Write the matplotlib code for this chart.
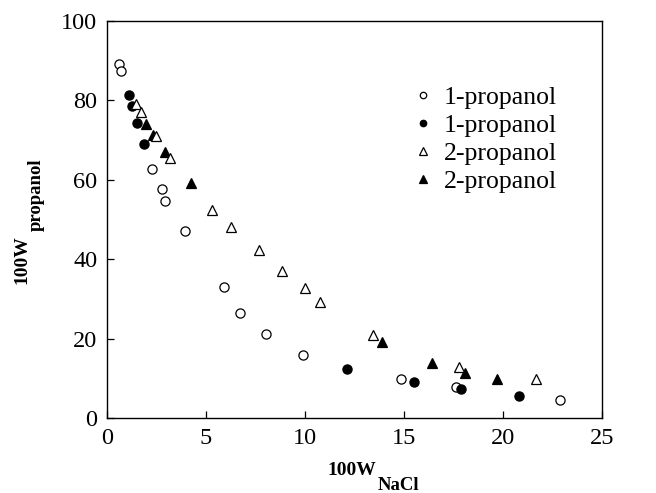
import matplotlib
matplotlib.use('Agg')
import matplotlib.pyplot as plt

plt.rcParams['font.family'] = ['Liberation Serif', 'DejaVu Serif']

# 1-propanol, two data sets
x1_open = [0.62, 0.71, 2.26, 2.80, 2.94, 3.96, 5.90, 6.73, 8.05, 9.91, 14.85, 17.64, 22.9]
y1_open = [89.2, 87.5, 62.7, 57.6, 54.7, 47.2, 32.9, 26.4, 21.2, 15.9, 9.8, 7.7, 4.5]
x1_fill = [1.13, 1.25, 1.52, 1.87, 12.1, 15.5, 17.9, 20.8]
y1_fill = [81.3, 78.7, 74.3, 69.0, 12.3, 9.1, 7.2, 5.5]

# 2-propanol, two data sets
x2_open = [1.47, 1.72, 2.49, 3.19, 5.31, 6.26, 7.66, 8.83, 10.0, 10.78, 13.42, 17.76, 21.68]
y2_open = [79.1, 77.0, 71.1, 65.6, 52.4, 48.1, 42.2, 37.0, 32.8, 29.3, 20.9, 12.9, 9.8]
x2_fill = [1.95, 2.32, 2.91, 4.23, 13.91, 16.4, 18.1, 19.7]
y2_fill = [74.1, 71.3, 66.9, 59.1, 19.1, 13.8, 11.3, 9.8]

labels = ['1-propanol', '1-propanol', '2-propanol', '2-propanol']
x_ticks = [0, 5, 10, 15, 20, 25]
y_ticks = [0, 20, 40, 60, 80, 100]

W, H = 656, 493
fig = plt.figure(figsize=(W / 100, H / 100), dpi=100)
ax = fig.add_axes([107 / W, 1 - 418 / H, 495 / W, 397 / H])


def px(x, y):
    return x / W, 1 - y / H


ax.plot(x1_open, y1_open, 'o', ms=6.6, mfc='white', mec='black', mew=0.9,
        ls='none', zorder=2, label=labels[0])
ax.plot(x1_fill, y1_fill, 'o', ms=6.6, mfc='black', mec='black', mew=0.9,
        ls='none', zorder=3, label=labels[1])
ax.plot(x2_open, y2_open, '^', ms=7.6, mfc='white', mec='black', mew=0.9,
        ls='none', zorder=5, label=labels[2])
ax.plot(x2_fill, y2_fill, '^', ms=7.6, mfc='black', mec='black', mew=0.9,
        ls='none', zorder=4, label=labels[3])

ax.set_xlim(0, 25)
ax.set_ylim(0, 100)
ax.set_xticks(x_ticks)
ax.set_yticks(y_ticks)
ax.tick_params(direction='in', length=5, width=0.9, labelsize=17.5,
               top=False, right=False, pad=7)
for s in ax.spines.values():
    s.set_linewidth(1.0)

leg = ax.legend(loc='upper left', bbox_to_anchor=(0.614, 0.836), frameon=False,
                fontsize=18.5, markerscale=0.7, handlelength=0.95,
                handletextpad=0.33, labelspacing=0.2, borderpad=0, borderaxespad=0)

# axis labels with large subscripts
fig.text(*px(352, 475), '100W', ha='center', va='baseline',
         fontsize=14, fontweight='bold')
fig.text(*px(378, 490), 'NaCl', ha='left', va='baseline',
         fontsize=13.5, fontweight='bold')
fig.text(*px(26, 284), '100W', ha='left', va='baseline', rotation=90,
         rotation_mode='anchor', fontsize=14, fontweight='bold')
fig.text(*px(41, 231), 'propanol', ha='left', va='baseline', rotation=90,
         rotation_mode='anchor', fontsize=13.5, fontweight='bold')

fig.savefig('out.png', dpi=100)
